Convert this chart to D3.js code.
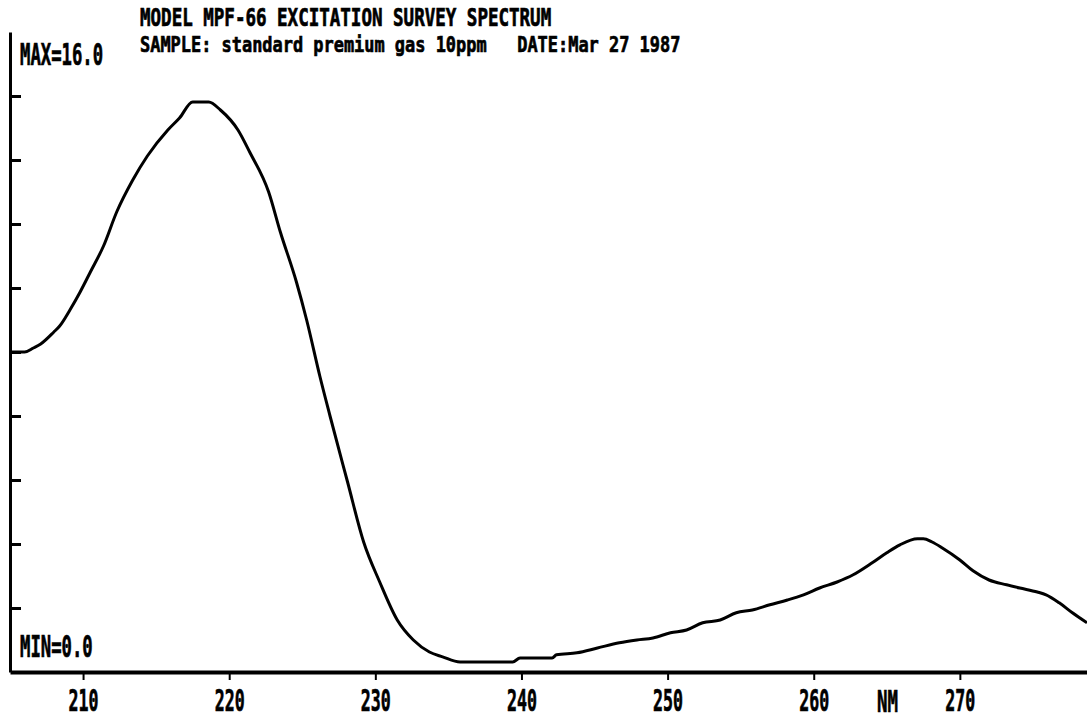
<!DOCTYPE html>
<html lang="en">
<head>
  <meta charset="UTF-8">
  <title>MPF-66 Excitation Survey Spectrum</title>
  <script src="https://d3js.org/d3.v7.min.js"></script>
  <style>
    body {
      margin: 0;
      padding: 0;
      background: #fff;
    }
    svg text {
      font-family: "DejaVu Sans Mono", monospace;
      font-weight: bold;
      fill: #000;
      stroke: #000;
      stroke-width: 0.7px;
    }
  </style>
</head>
<body>
  <div id="chart"></div>
  <script>
    const width = 1087;
    const height = 721;

    // wavelength (nm) and relative intensity
    const wavelength = [
      205.0, 206.0, 206.6, 207.1, 208.0, 208.4, 209.1, 209.8, 210.5,
      211.4, 212.3, 213.4, 214.4, 215.8, 216.6, 217.5, 218.6, 219.4, 220.6,
      221.4, 222.7, 223.5, 224.6, 225.3, 226.2, 226.9, 228.1, 229.2, 230.3,
      231.5, 232.6, 233.7, 234.6, 235.8, 239.4, 239.9, 242.1, 242.4, 243.8,
      245.2, 246.7, 247.9, 249.0, 250.2, 251.3, 252.4, 253.6, 254.7, 255.8,
      257.0, 258.2, 259.3, 260.4, 261.6, 262.7, 264.0, 265.0, 265.9, 267.1,
      267.5, 268.1, 268.8, 270.0, 270.9, 272.0, 273.2, 274.1, 275.3, 275.9,
      276.8, 277.7, 278.7
    ];
    const intensity = [
      8.0, 8.0, 8.1, 8.2, 8.5, 8.65, 9.05, 9.5, 10.0,
      10.65, 11.5, 12.3, 12.9, 13.55, 13.85, 14.25, 14.25, 14.05, 13.55,
      13.0, 12.0, 11.0, 9.75, 8.8, 7.4, 6.4, 4.75, 3.25, 2.25,
      1.3, 0.8, 0.5, 0.38, 0.25, 0.25, 0.35, 0.35, 0.43, 0.48,
      0.6, 0.73, 0.8, 0.85, 0.98, 1.05, 1.23, 1.3, 1.48, 1.55,
      1.68, 1.8, 1.93, 2.1, 2.25, 2.43, 2.73, 2.98, 3.18, 3.33,
      3.33, 3.25, 3.1, 2.8, 2.53, 2.3, 2.18, 2.1, 2.0, 1.93,
      1.73, 1.48, 1.23
    ];
    const xTicks = [210, 220, 230, 240, 250, 260, 270];
    const yTicks = [1.6, 3.2, 4.8, 6.4, 8.0, 9.6, 11.2, 12.8, 14.4];
    const yMin = 0, yMax = 16;

    const title = "MODEL MPF-66 EXCITATION SURVEY SPECTRUM";
    const sample = "SAMPLE: standard premium gas 10ppm   DATE:Mar 27 1987";

    const data = wavelength.map((w, i) => ({ w, v: intensity[i] }));

    const svg = d3.select("#chart")
      .append("svg")
      .attr("width", width)
      .attr("height", height);

    const x = d3.scaleLinear().domain([205, 278.7]).range([10, 1087]);
    const y = d3.scaleLinear().domain([yMin, yMax]).range([672, 32]);

    // squeeze text horizontally like the old plotter font (scale, keep height)
    function squeeze(sel, perChar, tx, ty) {
      sel.each(function () {
        const natural = this.getComputedTextLength();
        const sx = (this.textContent.length * perChar) / natural;
        const pre = tx === undefined ? "" : `translate(${tx},${ty}) `;
        d3.select(this).attr("transform", `${pre}scale(${sx},1)`);
      });
    }

    // left axis, ticks point inward
    const yAxis = svg.append("g")
      .attr("transform", `translate(${x(205)},0)`)
      .call(d3.axisLeft(y).tickValues(yTicks).tickSize(-11).tickSizeOuter(0).tickFormat(""));
    yAxis.select(".domain").attr("stroke", "#000").attr("stroke-width", 3);
    yAxis.selectAll(".tick line").attr("stroke", "#000").attr("stroke-width", 3);

    // bottom axis
    const xAxis = svg.append("g")
      .attr("transform", `translate(0,${y(0)})`)
      .call(d3.axisBottom(x).tickValues(xTicks).tickSize(8).tickSizeOuter(0).tickPadding(10));
    xAxis.select(".domain").attr("stroke", "#000").attr("stroke-width", 4);
    xAxis.selectAll(".tick line").attr("stroke", "#000").attr("stroke-width", 2);
    xAxis.selectAll(".tick text")
      .attr("font-size", 31)
      .attr("dy", "0.71em")
      .attr("y", 17)
      .call(squeeze, 10);

    svg.append("text")
      .attr("font-size", 31)
      .text("NM")
      .call(squeeze, 10.5, 877, 712);

    // spectrum
    const line = d3.line()
      .x(d => x(d.w))
      .y(d => y(d.v))
      .curve(d3.curveMonotoneX);

    svg.append("path")
      .datum(data)
      .attr("fill", "none")
      .attr("stroke", "#000")
      .attr("stroke-width", 3)
      .attr("stroke-linejoin", "round")
      .attr("d", line);

    // header
    svg.append("text")
      .attr("font-size", 24)
      .text(title)
      .call(squeeze, 10.55, 140, 26);

    svg.append("text")
      .attr("font-size", 22)
      .attr("xml:space", "preserve")
      .text(sample)
      .call(squeeze, 10.2, 140, 52);

    svg.append("text")
      .attr("font-size", 31)
      .text(`MAX=${yMax.toFixed(1)}`)
      .call(squeeze, 10.4, 20, 65);

    svg.append("text")
      .attr("font-size", 31)
      .text(`MIN=${yMin.toFixed(1)}`)
      .call(squeeze, 10.4, 20, 657);
  </script>
</body>
</html>
